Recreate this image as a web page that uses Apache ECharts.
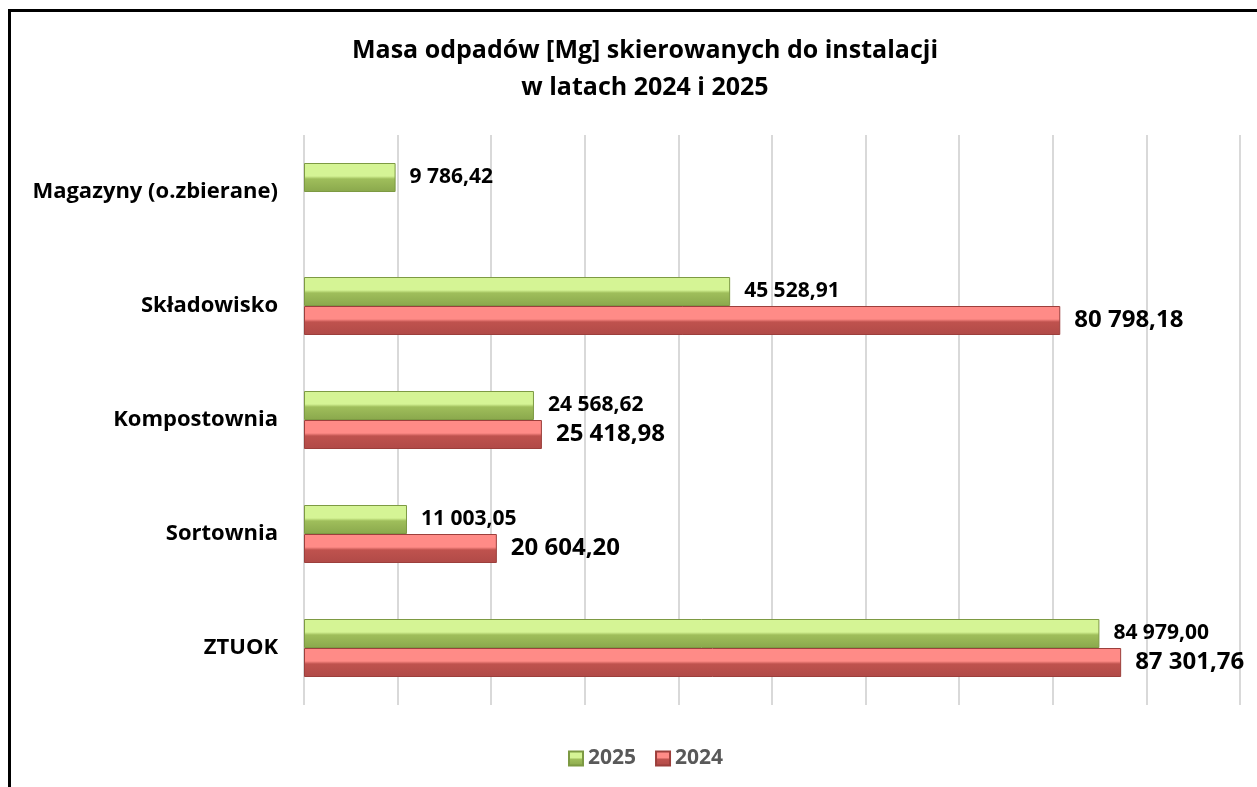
<!DOCTYPE html>
<html>
<head>
<meta charset="utf-8">
<script src="https://cdn.jsdelivr.net/npm/echarts@6/dist/echarts.min.js"></script>
<style>
  html, body { margin: 0; padding: 0; background: #fff; }
  #chart { width: 1257px; height: 787px; }
  .frame {
    position: absolute; left: 8px; top: 9px; width: 1400px; height: 900px;
    border-left: 3px solid #000; border-top: 3px solid #000;
    pointer-events: none;
  }
</style>
</head>
<body>
<div id="chart"></div>
<div class="frame"></div>
<script>
// dane z wykresu
const categories = ['ZTUOK', 'Sortownia', 'Kompostownia', 'Składowisko', 'Magazyny (o.zbierane)']
const values2025 = [84979.00, 11003.05, 24568.62, 45528.91, 9786.42]
const values2024 = [87301.76, 20604.20, 25418.98, 80798.18, null]
const seriesNames = ['2025', '2024']

const FONT = '"Open Sans", "Noto Sans", sans-serif'

function fmt(v) {
  const parts = v.toFixed(2).split('.')
  const intPart = parts[0].replace(/\B(?=(\d{3})+(?!\d))/g, ' ')
  return intPart + ',' + parts[1]
}

function bevel(light, base, dark) {
  return new echarts.graphic.LinearGradient(0, 0, 0, 1, [
    { offset: 0, color: light },
    { offset: 0.45, color: light },
    { offset: 0.55, color: base },
    { offset: 1, color: dark }
  ])
}

const chart = echarts.init(document.getElementById('chart'))
chart.setOption({
  animation: false,
  title: {
    text: 'Masa odpadów [Mg] skierowanych do instalacji\nw latach 2024 i 2025',
    left: 640,
    textAlign: 'center',
    top: 27,
    textStyle: {
      fontFamily: FONT,
      fontWeight: 'bold',
      fontSize: 25,
      lineHeight: 37,
      color: '#000'
    }
  },
  legend: {
    data: seriesNames,
    bottom: 13,
    left: 563,
    itemWidth: 14,
    itemHeight: 14,
    itemGap: 19,
    icon: 'rect',
    textStyle: {
      fontFamily: FONT,
      fontWeight: 'bold',
      fontSize: 21,
      color: '#595959'
    }
  },
  grid: {
    left: 304,
    right: 17,
    top: 135,
    bottom: 82,
    containLabel: false
  },
  xAxis: {
    type: 'value',
    min: 0,
    max: 100000,
    interval: 10000,
    axisLabel: { show: false },
    axisLine: { show: false },
    axisTick: { show: false },
    splitLine: { lineStyle: { color: '#d9d9d9', width: 2 } }
  },
  yAxis: {
    type: 'category',
    data: categories,
    axisLine: { show: false },
    axisTick: { show: false },
    axisLabel: {
      margin: 26,
      fontFamily: FONT,
      fontWeight: 'bold',
      fontSize: 22,
      color: '#000'
    }
  },
  series: [
    {
      name: '2025',
      type: 'bar',
      data: values2025,
      barWidth: 29,
      barGap: '0%',
      itemStyle: {
        color: bevel('#d5f495', '#9fbe5b', '#8aa84c'),
        borderColor: '#7d9a43',
        borderWidth: 1
      },
      label: {
        show: true,
        position: 'right',
        distance: 14,
        fontFamily: FONT,
        fontWeight: 'bold',
        fontSize: 21,
        color: '#000',
        formatter: p => fmt(p.value)
      }
    },
    {
      name: '2024',
      type: 'bar',
      data: values2024,
      barWidth: 29,
      barGap: '0%',
      itemStyle: {
        color: bevel('#ff8b87', '#bf524e', '#b04a47'),
        borderColor: '#9c3f3c',
        borderWidth: 1
      },
      label: {
        show: true,
        position: 'right',
        distance: 14,
        fontFamily: FONT,
        fontWeight: 'bold',
        fontSize: 24,
        color: '#000',
        formatter: p => (p.value == null ? '' : fmt(p.value))
      }
    }
  ]
})
</script>
</body>
</html>
